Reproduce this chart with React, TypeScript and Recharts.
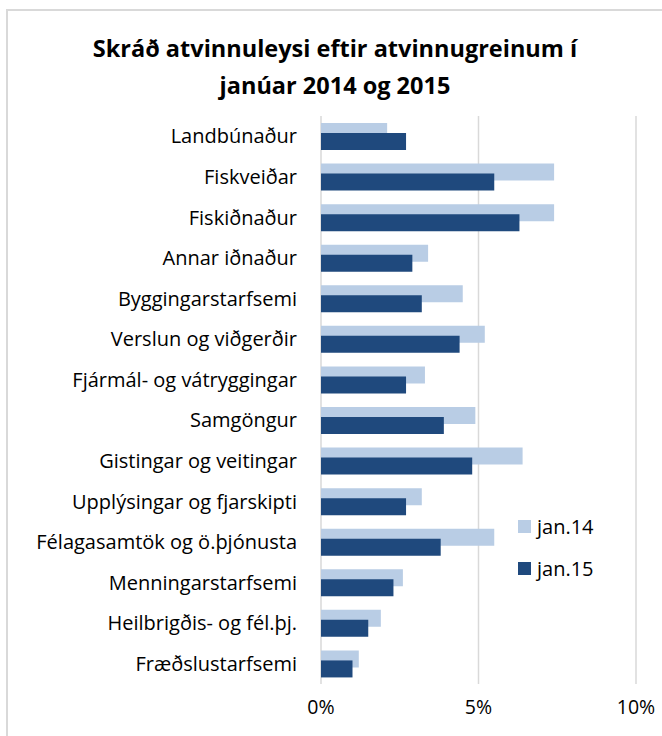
import React from 'react';
import { BarChart, Bar, XAxis, YAxis, CartesianGrid, Legend } from 'recharts';

// Atvinnugreinar (category axis, top to bottom)
const categories = [
  'Landbúnaður',
  'Fiskveiðar',
  'Fiskiðnaður',
  'Annar iðnaður',
  'Byggingarstarfsemi',
  'Verslun og viðgerðir',
  'Fjármál- og vátryggingar',
  'Samgöngur',
  'Gistingar og veitingar',
  'Upplýsingar og fjarskipti',
  'Félagasamtök og ö.þjónusta',
  'Menningarstarfsemi',
  'Heilbrigðis- og fél.þj.',
  'Fræðslustarfsemi',
];

// atvinnuleysi in %
const jan14 = [2.1, 7.4, 7.4, 3.4, 4.5, 5.2, 3.3, 4.9, 6.4, 3.2, 5.5, 2.6, 1.9, 1.2];
const jan15 = [2.7, 5.5, 6.3, 2.9, 3.2, 4.4, 2.7, 3.9, 4.8, 2.7, 3.8, 2.3, 1.5, 1.0];

const xTicks = [0, 5, 10];

const LIGHT = '#B9CDE5';
const DARK = '#1F497D';
const FONT = '"Open Sans", sans-serif';

const data = categories.map((name, i) => ({ name, jan14: jan14[i], jan15: jan15[i] }));

const renderLegend = () => (
  <div style={{ fontFamily: FONT, fontSize: 20, color: '#000' }}>
    {[
      { label: 'jan.14', color: LIGHT },
      { label: 'jan.15', color: DARK },
    ].map((it, i) => (
      <div key={it.label} style={{ display: 'flex', alignItems: 'center', height: 28, marginBottom: i === 0 ? 14 : 0 }}>
        <span style={{ display: 'inline-block', width: 13, height: 13, background: it.color, marginRight: 6 }} />
        <span>{it.label}</span>
      </div>
    ))}
  </div>
);

export default function App() {
  return (
    <div style={{ position: 'absolute', left: 0, top: 0, width: 662, height: 736, overflow: 'hidden', background: '#fff' }}>
      <div
        style={{
          position: 'absolute',
          left: 6,
          top: 9,
          width: 700,
          height: 800,
          border: '2px solid #D9D9D9',
          boxSizing: 'border-box',
        }}
      />
      <div
        style={{
          position: 'absolute',
          left: 8,
          top: 30,
          width: 654,
          textAlign: 'center',
          fontFamily: FONT,
          fontWeight: 700,
          fontSize: 23.5,
          lineHeight: '37px',
          color: '#000',
        }}
      >
        Skráð atvinnuleysi eftir atvinnugreinum í
        <br />
        janúar 2014 og 2015
      </div>
      <div style={{ position: 'absolute', left: 0, top: 0 }}>
        <BarChart
          width={662}
          height={736}
          data={data}
          layout="vertical"
          margin={{ top: 116, right: 26, bottom: 12, left: 0 }}
          barSize={17}
          barGap={-7}
        >
          <CartesianGrid horizontal={false} stroke="#D9D9D9" strokeWidth={1.5} />
          <XAxis
            type="number"
            domain={[0, 10]}
            ticks={xTicks}
            tickFormatter={(v: number) => `${v}%`}
            axisLine={false}
            tickLine={false}
            tickSize={0}
            tickMargin={16}
            height={40}
            tick={{ fill: '#000', fontSize: 19.5, fontFamily: FONT }}
          />
          <YAxis
            type="category"
            dataKey="name"
            width={321}
            axisLine={false}
            tickLine={false}
            tickSize={0}
            tickMargin={24}
            interval={0}
            tick={{ fill: '#000', fontSize: 20, fontFamily: FONT }}
          />
          <Legend
            content={renderLegend}
            layout="vertical"
            align="center"
            verticalAlign="middle"
            wrapperStyle={{ position: 'absolute', left: 518, top: 512, width: 120 }}
          />
          <Bar dataKey="jan14" name="jan.14" fill={LIGHT} isAnimationActive={false} />
          <Bar dataKey="jan15" name="jan.15" fill={DARK} isAnimationActive={false} />
        </BarChart>
      </div>
    </div>
  );
}
